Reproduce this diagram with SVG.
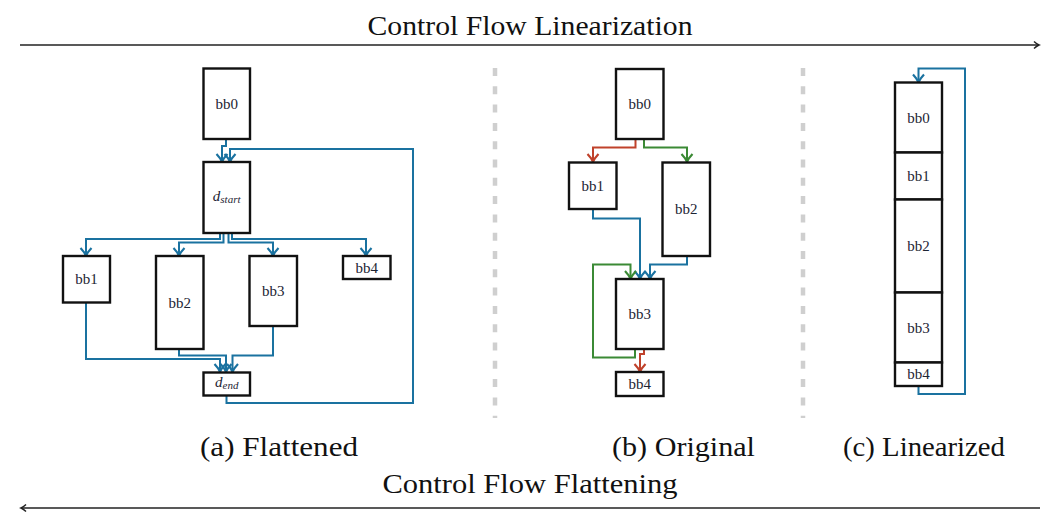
<svg xmlns="http://www.w3.org/2000/svg" width="1045" height="520" viewBox="0 0 1045 520">
<style>
.box{fill:#fff;stroke:#111;stroke-width:2.4}
.lbl{font-family:"Liberation Serif",serif;font-size:15px;fill:#1d2433;text-anchor:middle;dominant-baseline:central}
.cap{font-family:"Liberation Serif",serif;font-size:27px;fill:#111;text-anchor:middle}
.b{fill:none;stroke:#1a72a0;stroke-width:2}
.r{fill:none;stroke:#c0422b;stroke-width:2}
.g{fill:none;stroke:#3b8a35;stroke-width:2}
.sep{stroke:#cfcfcf;stroke-width:4.5;stroke-dasharray:8 10.3}
.ax{fill:none;stroke:#222;stroke-width:1.5}
</style>
<defs>
<marker id="mb" markerUnits="userSpaceOnUse" markerWidth="14" markerHeight="14" viewBox="-11 -7 14 14" refX="0" refY="0" orient="auto"><path d="M-8,-5.5 Q-3.5,-1.2 0,0 Q-3.5,1.2 -8,5.5" fill="none" stroke="#1a72a0" stroke-width="2.2"/></marker>
<marker id="mr" markerUnits="userSpaceOnUse" markerWidth="14" markerHeight="14" viewBox="-11 -7 14 14" refX="0" refY="0" orient="auto"><path d="M-8,-5.5 Q-3.5,-1.2 0,0 Q-3.5,1.2 -8,5.5" fill="none" stroke="#c0422b" stroke-width="2.2"/></marker>
<marker id="mg" markerUnits="userSpaceOnUse" markerWidth="14" markerHeight="14" viewBox="-11 -7 14 14" refX="0" refY="0" orient="auto"><path d="M-8,-5.5 Q-3.5,-1.2 0,0 Q-3.5,1.2 -8,5.5" fill="none" stroke="#3b8a35" stroke-width="2.2"/></marker>
<marker id="mk" markerUnits="userSpaceOnUse" markerWidth="10" markerHeight="10" viewBox="-8 -5 10 10" refX="0" refY="0" orient="auto"><path d="M-5,-3.5 Q-2,-0.8 0,0 Q-2,0.8 -5,3.5" fill="none" stroke="#222" stroke-width="1.5"/></marker>
</defs>

<g id="axes">
<line class="ax" x1="20" y1="45" x2="1039" y2="45" marker-end="url(#mk)"/>
<text class="cap" x="530" y="35" textLength="325" lengthAdjust="spacingAndGlyphs">Control Flow Linearization</text>
<line class="ax" x1="1040" y1="508" x2="21" y2="508" marker-end="url(#mk)"/>
<text class="cap" x="530" y="493" textLength="295" lengthAdjust="spacingAndGlyphs">Control Flow Flattening</text>
<text class="cap" x="279" y="456" textLength="158" lengthAdjust="spacingAndGlyphs">(a) Flattened</text>
<text class="cap" x="683.5" y="456" textLength="143" lengthAdjust="spacingAndGlyphs">(b) Original</text>
<text class="cap" x="924" y="456" textLength="162" lengthAdjust="spacingAndGlyphs">(c) Linearized</text>
</g>

<g id="separators">
<line class="sep" x1="495" y1="68" x2="495" y2="418"/>
<line class="sep" x1="803" y1="68" x2="803" y2="418"/>
</g>

<g id="connectors">
<path class="b" d="M226,139 V146 H222 V162" marker-end="url(#mb)"/>
<path class="b" d="M226.5,396 V403 H413 V149 H230 V162" marker-end="url(#mb)"/>
<path class="b" d="M220,233 V239 H86 V256" marker-end="url(#mb)"/>
<path class="b" d="M223.5,233 V242.5 H179 V256" marker-end="url(#mb)"/>
<path class="b" d="M228.5,233 V242.5 H273 V256" marker-end="url(#mb)"/>
<path class="b" d="M232,233 V239 H366 V256" marker-end="url(#mb)"/>
<path class="b" d="M86,302 V359 H220 V372" marker-end="url(#mb)"/>
<path class="b" d="M179,349 V355.5 H226 V372" marker-end="url(#mb)"/>
<path class="b" d="M273,326 V355.5 H232.5 V372" marker-end="url(#mb)"/>
<path class="r" d="M635.5,139 V147.5 H593 V162" marker-end="url(#mr)"/>
<path class="g" d="M644,139 V147.5 H687 V162" marker-end="url(#mg)"/>
<path class="b" d="M593,209 V218.5 H640 V279" marker-end="url(#mb)"/>
<path class="b" d="M687,256 V264.5 H650 V279" marker-end="url(#mb)"/>
<path class="g" d="M635,349 V357.5 H593 V264.5 H630.5 V279" marker-end="url(#mg)"/>
<path class="r" d="M644,349 V354 H640 V372" marker-end="url(#mr)"/>
<path class="b" d="M918.5,386 V394 H965 V68.5 H918.5 V82.5" marker-end="url(#mb)"/>
</g>

<g id="a_bb0"><rect class="box" x="203.5" y="68.5" width="46.5" height="70.5"/><text class="lbl" x="226.7" y="103.5">bb0</text></g>
<g id="a_dstart"><rect class="box" x="203.5" y="162" width="46.5" height="71"/><text class="lbl" x="226.7" y="196"><tspan font-style="italic">d</tspan><tspan font-style="italic" font-size="11" dy="3">start</tspan></text></g>
<g id="a_bb1"><rect class="box" x="63" y="256" width="47" height="46.5"/><text class="lbl" x="86.5" y="279">bb1</text></g>
<g id="a_bb2"><rect class="box" x="156" y="256" width="47.5" height="93"/><text class="lbl" x="179.7" y="302.5">bb2</text></g>
<g id="a_bb3"><rect class="box" x="249.5" y="256" width="47.5" height="70"/><text class="lbl" x="273.2" y="291">bb3</text></g>
<g id="a_bb4"><rect class="box" x="343" y="256" width="47.5" height="23"/><text class="lbl" x="366.7" y="267.5">bb4</text></g>
<g id="a_dend"><rect class="box" x="203.5" y="372.5" width="46.5" height="23"/><text class="lbl" x="226.7" y="382"><tspan font-style="italic">d</tspan><tspan font-style="italic" font-size="11" dy="3">end</tspan></text></g>

<g id="b_bb0"><rect class="box" x="616" y="69" width="47.5" height="70"/><text class="lbl" x="639.7" y="104">bb0</text></g>
<g id="b_bb1"><rect class="box" x="569" y="162.5" width="47.5" height="46.5"/><text class="lbl" x="592.7" y="185.7">bb1</text></g>
<g id="b_bb2"><rect class="box" x="662.5" y="162.5" width="47.5" height="93.5"/><text class="lbl" x="686.2" y="209.2">bb2</text></g>
<g id="b_bb3"><rect class="box" x="616" y="279" width="47.5" height="70"/><text class="lbl" x="639.7" y="314">bb3</text></g>
<g id="b_bb4"><rect class="box" x="616" y="372" width="47.5" height="24"/><text class="lbl" x="639.7" y="384">bb4</text></g>

<g id="c_bb0"><rect class="box" x="895" y="82.5" width="47" height="70"/><text class="lbl" x="918.5" y="117.5">bb0</text></g>
<g id="c_bb1"><rect class="box" x="895" y="152.5" width="47" height="47"/><text class="lbl" x="918.5" y="176">bb1</text></g>
<g id="c_bb2"><rect class="box" x="895" y="199.5" width="47" height="93"/><text class="lbl" x="918.5" y="246">bb2</text></g>
<g id="c_bb3"><rect class="box" x="895" y="292.5" width="47" height="70"/><text class="lbl" x="918.5" y="327.5">bb3</text></g>
<g id="c_bb4"><rect class="box" x="895" y="362.5" width="47" height="23.5"/><text class="lbl" x="918.5" y="374.2">bb4</text></g>
</svg>
